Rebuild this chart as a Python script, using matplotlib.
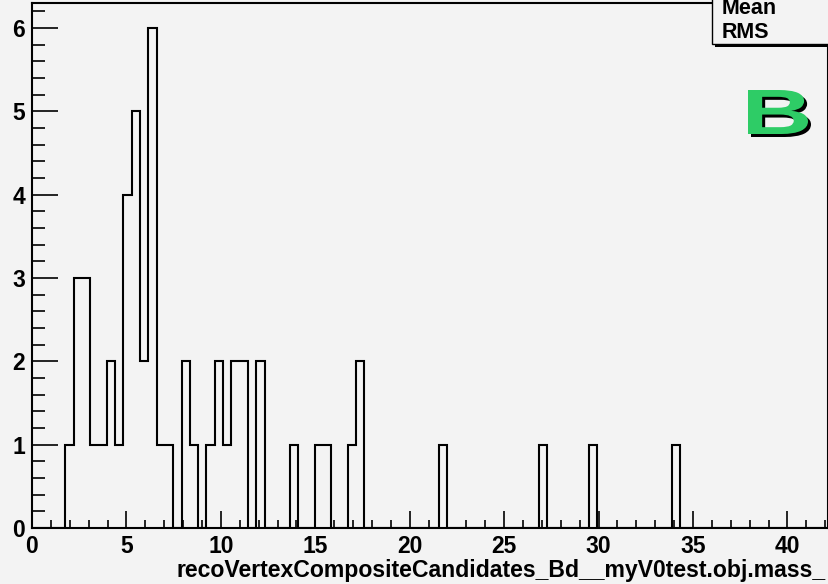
import matplotlib
matplotlib.use("Agg")
import matplotlib.pyplot as plt
import numpy as np
from matplotlib.ticker import MultipleLocator
from matplotlib.textpath import TextPath
from matplotlib.patches import PathPatch, Rectangle
from matplotlib.font_manager import FontProperties
from matplotlib.transforms import Affine2D

# histogram: 100 bins of width 0.44 starting at 0, only filled bins listed
bin_width = 0.44
n_bins = 100
filled_bins = [4, 5, 6, 7, 8, 9, 10, 11, 12, 13, 14, 15, 16, 18, 19, 21, 22, 23, 24, 25,
               27, 31, 34, 35, 38, 39, 49, 61, 67, 77]
filled_counts = [1, 3, 3, 1, 1, 2, 1, 4, 5, 2, 6, 1, 1, 2, 1, 1, 2, 1, 2, 2,
                 2, 1, 1, 1, 1, 2, 1, 1, 1, 1]
x_title = "recoVertexCompositeCandidates_Bd__myV0test.obj.mass_"
stat_labels = ["Mean", "RMS"]
tag = "B"

counts = np.zeros(n_bins)
counts[filled_bins] = filled_counts
edges = np.arange(n_bins + 1) * bin_width

W, H = 829, 584
bg = "#f3f3f3"
fig = plt.figure(figsize=(W / 100, H / 100), dpi=100, facecolor=bg)

def px(x, y):
    return x / W, 1 - y / H

ax = fig.add_axes([32 / W, (H - 528) / H, (828 - 32) / W, (528 - 3) / H], facecolor=bg)
ax.stairs(counts, edges, color="black", lw=1.5)
ax.set_xlim(0, 42.15)
ax.set_ylim(0, 6.3)

ax.xaxis.set_major_locator(MultipleLocator(5))
ax.xaxis.set_minor_locator(MultipleLocator(1))
ax.yaxis.set_major_locator(MultipleLocator(1))
ax.yaxis.set_minor_locator(MultipleLocator(0.2))
ax.tick_params(axis="x", which="major", direction="in", length=12, width=1.2, pad=5)
ax.tick_params(axis="x", which="minor", direction="in", length=6, width=1.2)
ax.tick_params(axis="y", which="major", direction="in", length=19, width=1.2, pad=5)
ax.tick_params(axis="y", which="minor", direction="in", length=9.5, width=1.2)
for lab in ax.get_xticklabels() + ax.get_yticklabels():
    lab.set_fontfamily("Liberation Sans")
    lab.set_fontweight("bold")
    lab.set_fontsize(16.5)
for s in ax.spines.values():
    s.set_linewidth(1.5)

fig.text(*px(826, 571), x_title, ha="right", va="center", fontsize=16.6,
         fontweight="bold", family="Liberation Sans")

# stat box (cropped at top/right) with shadow
shadow = Rectangle(px(715, 47), 200 / W, 80 / H, transform=fig.transFigure,
                   facecolor="black", edgecolor="none", zorder=5)
box = Rectangle(px(712, 44), 200 / W, 80 / H, transform=fig.transFigure,
                facecolor=bg, edgecolor="black", lw=1.0, zorder=6)
fig.add_artist(shadow)
fig.add_artist(box)
for i, s in enumerate(stat_labels):
    fig.text(*px(722, 9 + 24 * i), s, ha="left", va="center", fontsize=15.5,
             fontweight="bold", family="Liberation Sans", zorder=7)

# big green letter with black drop shadow, stretched horizontally
fp = FontProperties(family="Liberation Sans", weight="bold")
tp = TextPath((0, 0), tag, size=1, prop=fp)
bb = tp.get_extents()
sx = 60 / bb.width
sy = 44 / bb.height
for dx, dy, col in [(3, 3, "black"), (0, 0, "#2ecc66")]:
    tr = Affine2D().translate(-bb.x0, -bb.y0).scale(sx, sy).translate(748 + dx, H - 134 - dy)
    fig.add_artist(PathPatch(tr.transform_path(tp), facecolor=col, edgecolor="none",
                             transform=None, zorder=8))

fig.savefig("out.png", dpi=100, facecolor=bg)
